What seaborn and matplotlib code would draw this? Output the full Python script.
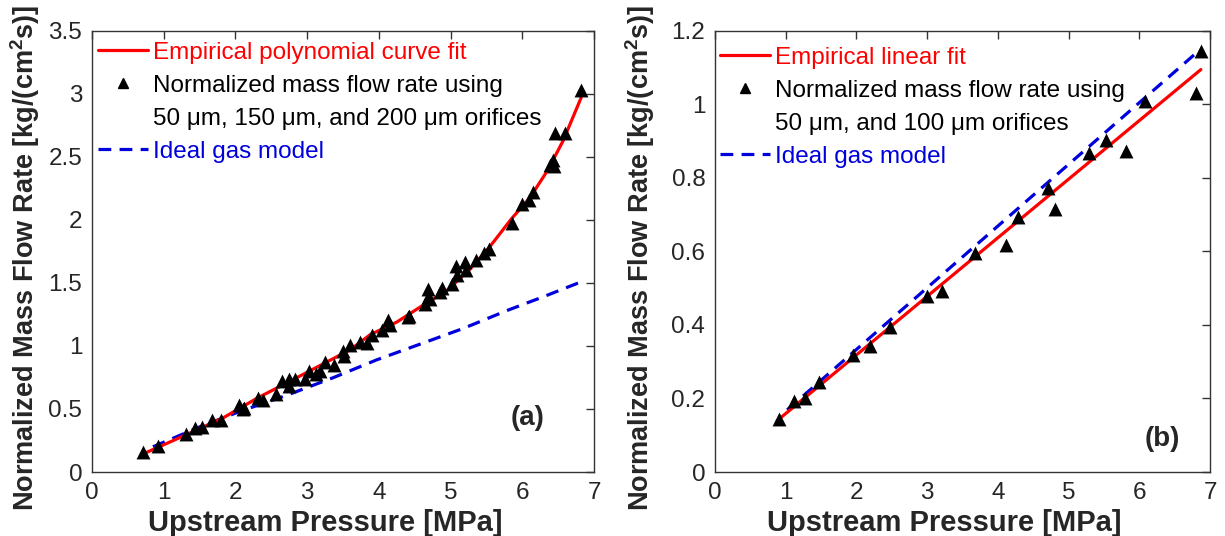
import numpy as np
import pandas as pd
import matplotlib
matplotlib.use("Agg")
import matplotlib.pyplot as plt
from matplotlib.lines import Line2D
import seaborn as sns

# ---------------- data ----------------
# Panel (a): measured points
a_pressure = [0.71, 0.92, 1.31, 1.44, 1.54, 1.68, 1.80, 2.05, 2.11, 2.12, 2.31, 2.38,
              2.57, 2.65, 2.75, 2.75, 2.83, 2.97, 3.02, 3.13, 3.18, 3.25, 3.38, 3.50,
              3.51, 3.60, 3.74, 3.83, 3.90, 4.04, 4.13, 4.16, 4.41, 4.42, 4.64, 4.68,
              4.69, 4.71, 4.85, 4.88, 5.02, 5.09, 5.08, 5.20, 5.22, 5.35, 5.47, 5.54,
              5.85, 5.99, 6.09, 6.15, 6.39, 6.43, 6.44, 6.46, 6.60, 6.82]
a_flow = [0.16, 0.21, 0.30, 0.35, 0.355, 0.41, 0.41, 0.53, 0.50, 0.51, 0.59, 0.57,
          0.62, 0.72, 0.74, 0.68, 0.74, 0.74, 0.80, 0.78, 0.80, 0.87, 0.85, 0.96,
          0.92, 1.01, 1.03, 1.02, 1.09, 1.13, 1.21, 1.17, 1.23, 1.24, 1.33, 1.39,
          1.45, 1.37, 1.43, 1.46, 1.49, 1.56, 1.635, 1.67, 1.60, 1.68, 1.74, 1.77,
          1.98, 2.13, 2.16, 2.22, 2.44, 2.48, 2.43, 2.69, 2.69, 3.03]
# Panel (a): empirical polynomial curve fit
a_fit_x = [0.72, 1.37, 1.83, 2.30, 2.76, 3.23, 3.60, 3.88, 4.25, 4.62, 4.95, 5.27,
           5.55, 5.85, 6.11, 6.36, 6.57, 6.82]
a_fit_y = [0.145, 0.31, 0.43, 0.585, 0.72, 0.86, 0.97, 1.09, 1.19, 1.325, 1.44, 1.61,
           1.79, 2.01, 2.18, 2.40, 2.63, 2.97]
# Panel (a): ideal gas model
a_ideal_x = [0.85, 1.51, 2.06, 2.72, 3.37, 3.97, 4.60, 5.18, 5.78, 6.29, 6.78]
a_ideal_y = [0.20, 0.36, 0.48, 0.61, 0.75, 0.89, 1.02, 1.14, 1.28, 1.39, 1.50]

# Panel (b): measured points
b_pressure = [0.90, 1.12, 1.27, 1.47, 1.95, 2.19, 2.47, 3.00, 3.21, 3.68, 4.12, 4.29,
              4.71, 4.81, 5.29, 5.53, 5.81, 6.08, 6.80, 6.87]
b_flow = [0.143, 0.194, 0.20, 0.246, 0.318, 0.344, 0.395, 0.48, 0.493, 0.597, 0.618,
          0.693, 0.772, 0.715, 0.869, 0.903, 0.873, 1.01, 1.03, 1.146]
# Panel (b): empirical linear fit and ideal gas model (end points)
b_fit_x = [0.88, 6.87]
b_fit_y = [0.14, 1.095]
b_ideal_x = [1.02, 6.84]
b_ideal_y = [0.169, 1.146]

# axes ticks
x_ticks = [0, 1, 2, 3, 4, 5, 6, 7]
x_tick_labels = ["0", "1", "2", "3", "4", "5", "6", "7"]
a_y_ticks = [0, 0.5, 1, 1.5, 2, 2.5, 3, 3.5]
a_y_tick_labels = ["0", "0.5", "1", "1.5", "2", "2.5", "3", "3.5"]
b_y_ticks = [0, 0.2, 0.4, 0.6, 0.8, 1.0, 1.2]
b_y_tick_labels = ["0", "0.2", "0.4", "0.6", "0.8", "1", "1.2"]

# text
x_label = "Upstream Pressure [MPa]"
y_label = r"Normalized Mass Flow Rate [kg/(cm$^{\mathbf{2}}$s)]"
a_legend = ["Empirical polynomial curve fit", "Normalized mass flow rate using",
            "50 \u03bcm, 150 \u03bcm, and 200 \u03bcm orifices", "Ideal gas model"]
b_legend = ["Empirical linear fit", "Normalized mass flow rate using",
            "50 \u03bcm, and 100 \u03bcm orifices", "Ideal gas model"]

# ---------------- styling ----------------
sns.set_theme(style="white")
plt.rcParams["font.family"] = ["Liberation Sans", "DejaVu Sans"]
plt.rcParams["mathtext.fontset"] = "custom"
plt.rcParams["mathtext.rm"] = "Liberation Sans"
plt.rcParams["mathtext.bf"] = "Liberation Sans:bold"
plt.rcParams["mathtext.it"] = "Liberation Sans:italic"

RED = "#ff0000"
BLUE = "#0000dd"
TICK_FS = 17.5
XLABEL_FS = 21
YLABEL_FS = 19.5

fig = plt.figure(figsize=(12.25, 5.36), dpi=100)
ax_a = fig.add_axes([0.0751, 0.1194, 0.4098, 0.8228])
ax_b = fig.add_axes([0.5837, 0.1194, 0.4041, 0.8228])


def draw(ax, px, py, fx, fy, ix, iy, yt, ytl, ylim, labels, tag, tagxy,
         leg_anchor, ylab_x):
    sns.lineplot(x=fx, y=fy, ax=ax, color=RED, linewidth=2.3, sort=False,
                 estimator=None, zorder=2)
    sns.lineplot(x=ix, y=iy, ax=ax, color=BLUE, linewidth=2.3, sort=False,
                 estimator=None, zorder=1)
    ax.lines[-1].set_dashes([4.0, 2.6])
    sns.scatterplot(x=px, y=py, ax=ax, marker="^", color="black", s=100,
                    linewidth=0, zorder=3)
    ax.set_xlim(0, 7)
    ax.set_ylim(*ylim)
    ax.set_xticks(x_ticks)
    ax.set_xticklabels(x_tick_labels)
    ax.set_yticks(yt)
    ax.set_yticklabels(ytl)
    ax.tick_params(direction="in", top=True, right=True, length=6, width=1,
                   labelsize=TICK_FS, color="#333333", pad=7)
    for s in ax.spines.values():
        s.set_color("#333333")
        s.set_linewidth(1.0)
    ax.set_xlabel(x_label, fontsize=XLABEL_FS, fontweight="bold")
    ax.set_ylabel(y_label, fontsize=YLABEL_FS, fontweight="bold")
    ax.xaxis.set_label_coords(0.464, -0.085)
    ax.yaxis.set_label_coords(ylab_x, 0.485)

    handles = [
        Line2D([], [], color=RED, linewidth=2.3),
        Line2D([], [], color="black", marker="^", linestyle="none", markersize=7),
        Line2D([], [], color="none", linestyle="none"),
        Line2D([], [], color=BLUE, linewidth=2.3, dashes=[4.0, 2.6]),
    ]
    ax.legend(handles, labels, loc="upper left", bbox_to_anchor=leg_anchor,
              frameon=False, fontsize=TICK_FS, handlelength=2.05,
              handletextpad=0.2, labelspacing=0.45, borderaxespad=0.0,
              borderpad=0.25, labelcolor=[RED, "black", "black", BLUE])
    ax.text(tagxy[0], tagxy[1], tag, fontsize=20, fontweight="bold",
            ha="center", va="center")


draw(ax_a, a_pressure, a_flow, a_fit_x, a_fit_y, a_ideal_x, a_ideal_y,
     a_y_ticks, a_y_tick_labels, (0, 3.5), a_legend, "(a)", (6.08, 0.43),
     (0.0, 0.989), -0.10)
draw(ax_b, b_pressure, b_flow, b_fit_x, b_fit_y, b_ideal_x, b_ideal_y,
     b_y_ticks, b_y_tick_labels, (0, 1.2), b_legend, "(b)", (6.33, 0.09),
     (-0.002, 0.978), -0.117)

fig.savefig("out.png", dpi=100)
